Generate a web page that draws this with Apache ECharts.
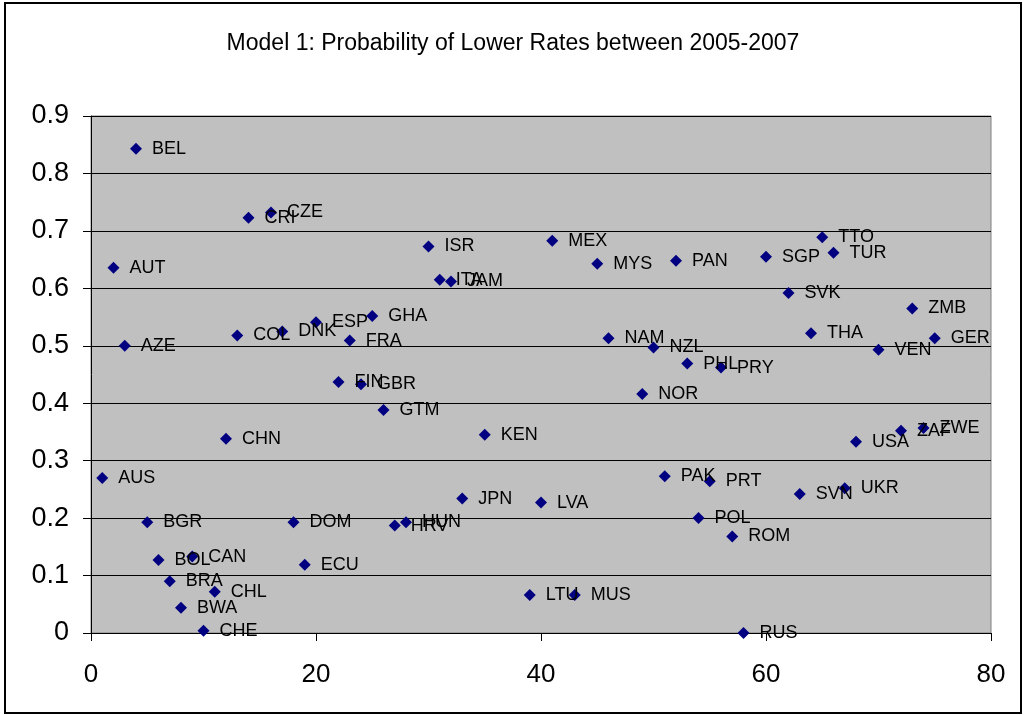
<!DOCTYPE html>
<html>
<head>
<meta charset="utf-8">
<script src="https://cdn.jsdelivr.net/npm/echarts@6/dist/echarts.min.js"></script>
<style>
html,body{margin:0;padding:0;background:#fff;}
#chart{width:1026px;height:715px;}
</style>
</head>
<body>
<div id="chart"></div>
<script>
const countries = ["AUS","AUT","AZE","BEL","BGR","BOL","BRA","BWA","CAN","CHE","CHL","CHN","COL","CRI","CZE","DNK","DOM","ECU","ESP","FIN","FRA","GBR","GHA","GTM","HRV","HUN","ISR","ITA","JAM","JPN","KEN","LTU","LVA","MEX","MUS","MYS","NAM","NOR","NZL","PAK","PAN","PHL","POL","PRT","PRY","ROM","RUS","SGP","SVK","SVN","THA","TTO","TUR","UKR","USA","VEN","ZAF","ZMB","ZWE","GER"];
const xValues = [1,2,3,4,5,6,7,8,9,10,11,12,13,14,16,17,18,19,20,22,23,24,25,26,27,28,30,31,32,33,35,39,40,41,43,45,46,49,50,51,52,53,54,55,56,57,58,60,62,63,64,65,66,67,68,70,72,73,74,75];
const yValues = [0.270,0.636,0.500,0.843,0.193,0.127,0.090,0.044,0.133,0.004,0.072,0.338,0.518,0.723,0.732,0.525,0.193,0.119,0.541,0.437,0.509,0.433,0.552,0.388,0.187,0.193,0.673,0.615,0.612,0.234,0.345,0.066,0.227,0.683,0.066,0.643,0.513,0.416,0.497,0.273,0.648,0.469,0.200,0.264,0.462,0.168,0.000,0.655,0.592,0.242,0.522,0.689,0.662,0.252,0.333,0.493,0.352,0.565,0.357,0.513];
const xTicks = [0,20,40,60,80];
const yTicks = [0,0.1,0.2,0.3,0.4,0.5,0.6,0.7,0.8,0.9];
const titleText = "Model 1: Probability of Lower Rates between 2005-2007";

const chart = echarts.init(document.getElementById('chart'), null, {renderer:'canvas'});
const pts = countries.map((c,i)=>({value:[xValues[i], yValues[i]], name:c}));
const FONT = "'Liberation Sans', Arial, sans-serif";

chart.setOption({
  backgroundColor:'#ffffff',
  animation:false,
  title:{
    text:titleText,
    left:'center',
    top:27,
    textStyle:{fontFamily:FONT,fontSize:23,fontWeight:'normal',color:'#000'}
  },
  graphic:[{
    type:'rect',
    shape:{x:5,y:3,width:1016,height:710},
    style:{fill:'none',stroke:'#000',lineWidth:2},
    z:100
  }],
  grid:{left:91,right:35,top:116,bottom:82,show:true,backgroundColor:'#C0C0C0',borderColor:'#808080',borderWidth:1},
  xAxis:{
    type:'value',min:xTicks[0],max:xTicks[xTicks.length-1],interval:20,
    axisLine:{show:true,onZero:false,lineStyle:{color:'#000',width:1}},
    axisTick:{show:true,length:8,lineStyle:{color:'#000'}},
    axisLabel:{fontFamily:FONT,fontSize:26,color:'#000',margin:29},
    splitLine:{show:false}
  },
  yAxis:{
    type:'value',min:yTicks[0],max:yTicks[yTicks.length-1],interval:0.1,
    axisLine:{show:true,onZero:false,lineStyle:{color:'#000',width:1}},
    axisTick:{show:true,length:8,lineStyle:{color:'#000'}},
    axisLabel:{fontFamily:FONT,fontSize:27,color:'#000',margin:22,
      formatter:v=>{const r=Math.round(v*10)/10; return r===0?'0':String(r);}},
    splitLine:{show:true,lineStyle:{color:'#000',width:1}}
  },
  series:[{
    type:'scatter',
    symbol:'diamond',
    symbolSize:12,
    itemStyle:{color:'#000080',opacity:1},
    data:pts,
    label:{show:true,position:'right',distance:10,formatter:p=>p.name,
      fontFamily:FONT,fontSize:18,color:'#000'},
    labelLayout:{hideOverlap:false}
  }]
});
</script>
</body>
</html>
